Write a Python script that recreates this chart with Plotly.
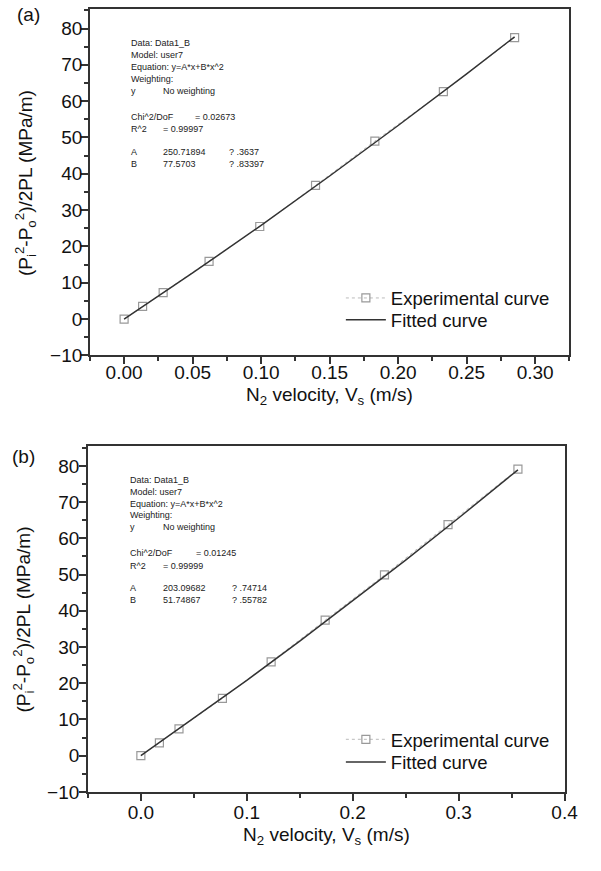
import plotly.graph_objects as go

# ---------------- data ----------------
a_exp_x = [0.0, 0.0135, 0.0285, 0.062, 0.099, 0.1397, 0.183, 0.233, 0.285]
a_exp_y = [0.0, 3.5, 7.3, 15.9, 25.5, 36.8, 49.0, 62.6, 77.5]
a_fit_x = [0.0, 0.05, 0.10, 0.15, 0.20, 0.25, 0.285]
a_fit_y = [0.0, 12.7, 25.8, 39.4, 53.3, 67.5, 77.7]

b_exp_x = [0.0, 0.0175, 0.036, 0.077, 0.123, 0.174, 0.230, 0.290, 0.356]
b_exp_y = [0.0, 3.5, 7.4, 15.8, 25.9, 37.4, 49.9, 63.8, 79.1]
b_fit_x = [0.0, 0.05, 0.10, 0.15, 0.20, 0.25, 0.30, 0.356]
b_fit_y = [0.0, 10.3, 20.8, 31.6, 42.7, 54.0, 65.6, 78.9]

y_ticks = [-10, 0, 10, 20, 30, 40, 50, 60, 70, 80]
a_x_ticks = [0.00, 0.05, 0.10, 0.15, 0.20, 0.25, 0.30]
b_x_ticks = [0.0, 0.1, 0.2, 0.3, 0.4]

a_fit_text = [
    ["Data: Data1_B"], ["Model: user7"], ["Equation: y=A*x+B*x^2"], ["Weighting:"],
    ["y", "No weighting"],
    ["Chi^2/DoF", "= 0.02673"], ["R^2", "= 0.99997"],
    ["A", "250.71894", "? .3637"], ["B", "77.5703", "? .83397"],
]
b_fit_text = [
    ["Data: Data1_B"], ["Model: user7"], ["Equation: y=A*x+B*x^2"], ["Weighting:"],
    ["y", "No weighting"],
    ["Chi^2/DoF", "= 0.01245"], ["R^2", "= 0.99999"],
    ["A", "203.09682", "? .74714"], ["B", "51.74867", "? .55782"],
]

# ---------------- layout helpers ----------------
W, H = 601, 871
FONT = "Liberation Sans, Arial, sans-serif"
AX = "#333333"

def px(x):
    return x / W

def py(y):
    return 1 - y / H

fig = go.Figure()

exp_line = dict(color="#bbbbbb", width=1, dash="dot")
exp_marker = dict(symbol="square-open", size=8, color="#999999", line=dict(width=1.2))
fit_line = dict(color="#333333", width=1.5)

# panel (a)
fig.add_trace(go.Scatter(x=a_exp_x, y=a_exp_y, mode="lines+markers", name="Experimental curve",
                         line=exp_line, marker=exp_marker, xaxis="x", yaxis="y", legend="legend"))
fig.add_trace(go.Scatter(x=a_fit_x, y=a_fit_y, mode="lines", name="Fitted curve",
                         line=fit_line, xaxis="x", yaxis="y", legend="legend2"))
# panel (b)
fig.add_trace(go.Scatter(x=b_exp_x, y=b_exp_y, mode="lines+markers", name="Experimental curve",
                         line=exp_line, marker=exp_marker, xaxis="x2", yaxis="y2", legend="legend3"))
fig.add_trace(go.Scatter(x=b_fit_x, y=b_fit_y, mode="lines", name="Fitted curve",
                         line=fit_line, xaxis="x2", yaxis="y2", legend="legend4"))

tickfont = dict(family=FONT, size=19, color="#111111")

def xaxis(dom, rng, ticks, fmt, dtick, anchor, standoff):
    return dict(domain=dom, range=rng, anchor=anchor, tickvals=ticks, tickformat=fmt,
                showline=True, linecolor=AX, linewidth=1.5, mirror=True,
                ticks="outside", ticklen=7, tickwidth=1.5, tickcolor=AX,
                ticklabelstandoff=standoff,
                minor=dict(dtick=dtick / 2, tick0=0, ticks="outside", ticklen=4, tickwidth=1.5, tickcolor=AX),
                showgrid=False, zeroline=False, tickfont=tickfont)

def yaxis(dom, rng, anchor, standoff):
    return dict(domain=dom, range=rng, anchor=anchor, tickvals=y_ticks,
                showline=True, linecolor=AX, linewidth=1.5, mirror=True,
                ticks="outside", ticklen=7, tickwidth=1.5, tickcolor=AX,
                ticklabelstandoff=standoff,
                minor=dict(dtick=5, tick0=0, ticks="outside", ticklen=4, tickwidth=1.5, tickcolor=AX),
                showgrid=False, zeroline=False, tickfont=tickfont)

def yright(over, rng, anchor):
    return dict(overlaying=over, side="right", anchor=anchor, range=rng, tickvals=y_ticks,
                showticklabels=False, showline=False,
                ticks="inside", ticklen=6, tickwidth=1.5, tickcolor=AX,
                minor=dict(dtick=5, tick0=0, ticks="inside", ticklen=6, tickwidth=1.5, tickcolor=AX),
                showgrid=False, zeroline=False)

a_xdom = [px(92), px(583)]
a_ydom = [py(360), py(9)]
b_xdom = [px(90), px(578)]
b_ydom = [py(802), py(452)]
YR = [-10, 85.4]

annotations = []

def block(rows, x0, y0, coltab):
    ys = [y0, y0 + 12, y0 + 24, y0 + 36, y0 + 48, y0 + 74, y0 + 87, y0 + 110, y0 + 122]
    for i, (row, yy) in enumerate(zip(rows, ys)):
        for txt, cx in zip(row, coltab[i]):
            annotations.append(dict(text=txt, x=px(x0 + cx), y=py(yy), xref="paper", yref="paper",
                                    xanchor="left", yanchor="middle", showarrow=False,
                                    font=dict(family=FONT, size=9, color="#222222")))

block(a_fit_text, 132, 44, [[0], [0], [0], [0], [0, 33], [0, 66], [0, 33], [0, 33, 100], [0, 33, 100]])
block(b_fit_text, 131, 486, [[0], [0], [0], [0], [0, 34], [0, 68], [0, 34], [0, 34, 104], [0, 34, 104]])

ytitle = "(P<sub>i</sub><sup>2</sup>-P<sub>o</sub><sup>2</sup>)/2PL (MPa/m)"
xtitle = "N<sub>2</sub> velocity, V<sub>s</sub> (m/s)"
for (xc, yc) in [(26, 185), (24, 627)]:
    annotations.append(dict(text=ytitle, x=px(xc), y=py(yc), xref="paper", yref="paper",
                            xanchor="center", yanchor="middle", textangle=-90, showarrow=False,
                            font=dict(family=FONT, size=19, color="#111111")))
for (xc, yc) in [(337, 401), (334, 847)]:
    annotations.append(dict(text=xtitle, x=px(xc), y=py(yc), xref="paper", yref="paper",
                            xanchor="center", yanchor="middle", showarrow=False,
                            font=dict(family=FONT, size=19, color="#111111")))
for (lab, xc, yc) in [("(a)", 29, 15), ("(b)", 24, 462)]:
    annotations.append(dict(text=lab, x=px(xc), y=py(yc), xref="paper", yref="paper",
                            xanchor="center", yanchor="middle", showarrow=False,
                            font=dict(family=FONT, size=19, color="#111111")))

legfont = dict(family=FONT, size=18.5, color="#111111")

def leg(xp, ytop):
    return dict(x=px(xp), y=py(ytop), xanchor="left", yanchor="top", font=legfont,
                bgcolor="rgba(0,0,0,0)", itemwidth=40)

fig.update_layout(
    width=W, height=H, margin=dict(l=0, r=0, t=0, b=0),
    paper_bgcolor="white", plot_bgcolor="white",
    xaxis=xaxis(a_xdom, [-0.025, 0.325], a_x_ticks, ".2f", 0.05, "y", -8),
    yaxis=yaxis(a_ydom, YR, "x", -5),
    yaxis3=yright("y", YR, "x"),
    xaxis2=xaxis(b_xdom, [-0.05, 0.4], b_x_ticks, ".1f", 0.1, "y2", -4),
    yaxis2=yaxis(b_ydom, YR, "x2", -4),
    yaxis4=yright("y2", YR, "x2"),
    legend=leg(349, 283),
    legend2=leg(349, 305),
    legend3=leg(349, 730),
    legend4=leg(349, 753),
    annotations=annotations,
    showlegend=True,
)

fig.write_html("out.html")
